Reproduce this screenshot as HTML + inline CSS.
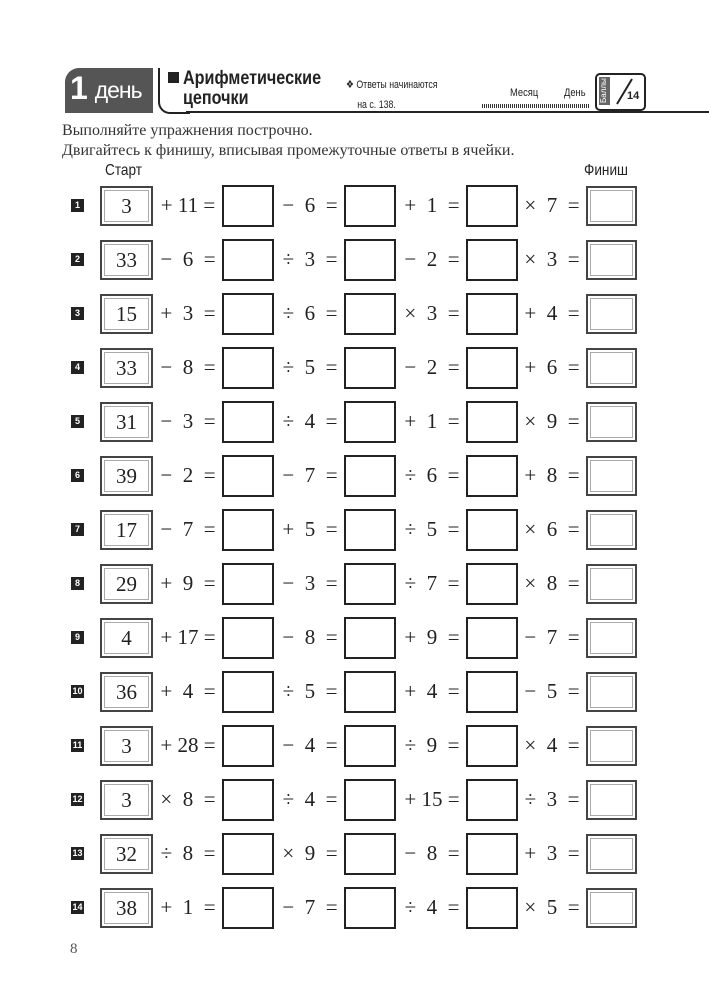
<!DOCTYPE html>
<html><head><meta charset="utf-8"><style>
body{margin:0;width:709px;height:1001px;background:#fff;position:relative;overflow:hidden;font-family:"Liberation Serif",serif;color:#222}
.a{position:absolute}
.row{position:absolute;left:0;width:709px;height:42px}
.n{position:absolute;left:71px;top:14px;width:13px;height:13px;background:#222;color:#fff;font:bold 9px "Liberation Sans",sans-serif;text-align:center;line-height:13px}
.s{position:absolute;left:100px;top:1px;width:49px;height:36px;border:2px solid #444;outline:1px solid #aaa;outline-offset:-5px;font-size:21px;text-align:center;line-height:36px}
.b{position:absolute;top:0;width:48px;height:38px;border:2px solid #222}
.f{position:absolute;left:586px;top:1px;width:47px;height:36px;border:2px solid #444;outline:1px solid #aaa;outline-offset:-5px}
.o{position:absolute;top:0;height:40px;line-height:40px;font-size:21px;white-space:pre;text-align:center}
.o1{left:153px;width:70px}.o2{left:274px;width:72px}.o3{left:396px;width:72px}.o4{left:517px;width:70px}
.b1{left:222px}.b2{left:344px}.b3{left:466px}
.nar{transform-origin:0 0;transform:scaleX(0.85)}
</style></head><body>
<div class="a" style="left:65px;top:68px;width:88px;height:45px;background:#555;border-radius:14px 0 0 0"></div>
<div class="a" style="left:70px;top:70px;color:#fff;font:bold 32px 'Liberation Sans',sans-serif;letter-spacing:-1px">1 <span style="font-size:23px;font-weight:normal;position:relative;top:-1px">день</span></div>
<div class="a" style="left:158px;top:68px;width:30px;height:44px;border-left:2px solid #222;border-bottom:2px solid #222;border-radius:0 0 0 12px"></div>
<div class="a" style="left:186px;top:111px;width:523px;height:2px;background:#222"></div>
<div class="a" style="left:168px;top:72px;width:11px;height:11px;background:#222"></div>
<div class="a nar" style="left:183px;top:69px;font:bold 19px 'Liberation Sans',sans-serif;line-height:20px">Арифметические<br>цепочки</div>
<div class="a nar" style="left:346px;top:75px;font:11px 'Liberation Sans',sans-serif;line-height:20px;transform:scaleX(0.8)">❖ Ответы начинаются<br><span style="margin-left:14px">на с. 138.</span></div>
<div class="a nar" style="left:510px;top:87px;font:11px 'Liberation Sans',sans-serif">Месяц</div>
<div class="a nar" style="left:564px;top:87px;font:11px 'Liberation Sans',sans-serif">День</div>
<div class="a" style="left:482px;top:104px;width:107px;height:4px;background:repeating-linear-gradient(90deg,#333 0 1px,#fff 1px 2px)"></div>
<div class="a" style="left:595px;top:73px;width:47px;height:34px;border:2px solid #222;border-radius:5px"></div>
<div class="a" style="left:599px;top:77px;width:11px;height:28px;background:#666;color:#fff;font:8px 'Liberation Sans',sans-serif;writing-mode:vertical-rl;transform:rotate(180deg);text-align:center">Баллы</div>
<svg class="a" style="left:612px;top:76px" width="30" height="30"><line x1="20" y1="3" x2="5" y2="28" stroke="#222" stroke-width="2"/></svg>
<div class="a" style="left:627px;top:90px;font:bold 11px 'Liberation Sans',sans-serif">14</div>
<div class="a" style="left:62px;top:121px;font-size:16px;line-height:20px;color:#333">Выполняйте упражнения построчно.<br>Двигайтесь к финишу, вписывая промежуточные ответы в ячейки.</div>
<div class="a nar" style="left:105px;top:162px;font:16px 'Liberation Sans',sans-serif">Старт</div>
<div class="a nar" style="left:584px;top:162px;font:16px 'Liberation Sans',sans-serif">Финиш</div>

<div class="row" style="top:185px"><div class="n">1</div><div class="s">3</div><div class="o o1">+ 11 =</div><div class="b b1"></div><div class="o o2">−  6  =</div><div class="b b2"></div><div class="o o3">+  1  =</div><div class="b b3"></div><div class="o o4">×  7  =</div><div class="f"></div></div>
<div class="row" style="top:239px"><div class="n">2</div><div class="s">33</div><div class="o o1">−  6  =</div><div class="b b1"></div><div class="o o2">÷  3  =</div><div class="b b2"></div><div class="o o3">−  2  =</div><div class="b b3"></div><div class="o o4">×  3  =</div><div class="f"></div></div>
<div class="row" style="top:293px"><div class="n">3</div><div class="s">15</div><div class="o o1">+  3  =</div><div class="b b1"></div><div class="o o2">÷  6  =</div><div class="b b2"></div><div class="o o3">×  3  =</div><div class="b b3"></div><div class="o o4">+  4  =</div><div class="f"></div></div>
<div class="row" style="top:347px"><div class="n">4</div><div class="s">33</div><div class="o o1">−  8  =</div><div class="b b1"></div><div class="o o2">÷  5  =</div><div class="b b2"></div><div class="o o3">−  2  =</div><div class="b b3"></div><div class="o o4">+  6  =</div><div class="f"></div></div>
<div class="row" style="top:401px"><div class="n">5</div><div class="s">31</div><div class="o o1">−  3  =</div><div class="b b1"></div><div class="o o2">÷  4  =</div><div class="b b2"></div><div class="o o3">+  1  =</div><div class="b b3"></div><div class="o o4">×  9  =</div><div class="f"></div></div>
<div class="row" style="top:455px"><div class="n">6</div><div class="s">39</div><div class="o o1">−  2  =</div><div class="b b1"></div><div class="o o2">−  7  =</div><div class="b b2"></div><div class="o o3">÷  6  =</div><div class="b b3"></div><div class="o o4">+  8  =</div><div class="f"></div></div>
<div class="row" style="top:509px"><div class="n">7</div><div class="s">17</div><div class="o o1">−  7  =</div><div class="b b1"></div><div class="o o2">+  5  =</div><div class="b b2"></div><div class="o o3">÷  5  =</div><div class="b b3"></div><div class="o o4">×  6  =</div><div class="f"></div></div>
<div class="row" style="top:563px"><div class="n">8</div><div class="s">29</div><div class="o o1">+  9  =</div><div class="b b1"></div><div class="o o2">−  3  =</div><div class="b b2"></div><div class="o o3">÷  7  =</div><div class="b b3"></div><div class="o o4">×  8  =</div><div class="f"></div></div>
<div class="row" style="top:617px"><div class="n">9</div><div class="s">4</div><div class="o o1">+ 17 =</div><div class="b b1"></div><div class="o o2">−  8  =</div><div class="b b2"></div><div class="o o3">+  9  =</div><div class="b b3"></div><div class="o o4">−  7  =</div><div class="f"></div></div>
<div class="row" style="top:671px"><div class="n">10</div><div class="s">36</div><div class="o o1">+  4  =</div><div class="b b1"></div><div class="o o2">÷  5  =</div><div class="b b2"></div><div class="o o3">+  4  =</div><div class="b b3"></div><div class="o o4">−  5  =</div><div class="f"></div></div>
<div class="row" style="top:725px"><div class="n">11</div><div class="s">3</div><div class="o o1">+ 28 =</div><div class="b b1"></div><div class="o o2">−  4  =</div><div class="b b2"></div><div class="o o3">÷  9  =</div><div class="b b3"></div><div class="o o4">×  4  =</div><div class="f"></div></div>
<div class="row" style="top:779px"><div class="n">12</div><div class="s">3</div><div class="o o1">×  8  =</div><div class="b b1"></div><div class="o o2">÷  4  =</div><div class="b b2"></div><div class="o o3">+ 15 =</div><div class="b b3"></div><div class="o o4">÷  3  =</div><div class="f"></div></div>
<div class="row" style="top:833px"><div class="n">13</div><div class="s">32</div><div class="o o1">÷  8  =</div><div class="b b1"></div><div class="o o2">×  9  =</div><div class="b b2"></div><div class="o o3">−  8  =</div><div class="b b3"></div><div class="o o4">+  3  =</div><div class="f"></div></div>
<div class="row" style="top:887px"><div class="n">14</div><div class="s">38</div><div class="o o1">+  1  =</div><div class="b b1"></div><div class="o o2">−  7  =</div><div class="b b2"></div><div class="o o3">÷  4  =</div><div class="b b3"></div><div class="o o4">×  5  =</div><div class="f"></div></div>

<div class="a" style="left:70px;top:941px;font-size:15px;color:#555">8</div>
</body></html>
